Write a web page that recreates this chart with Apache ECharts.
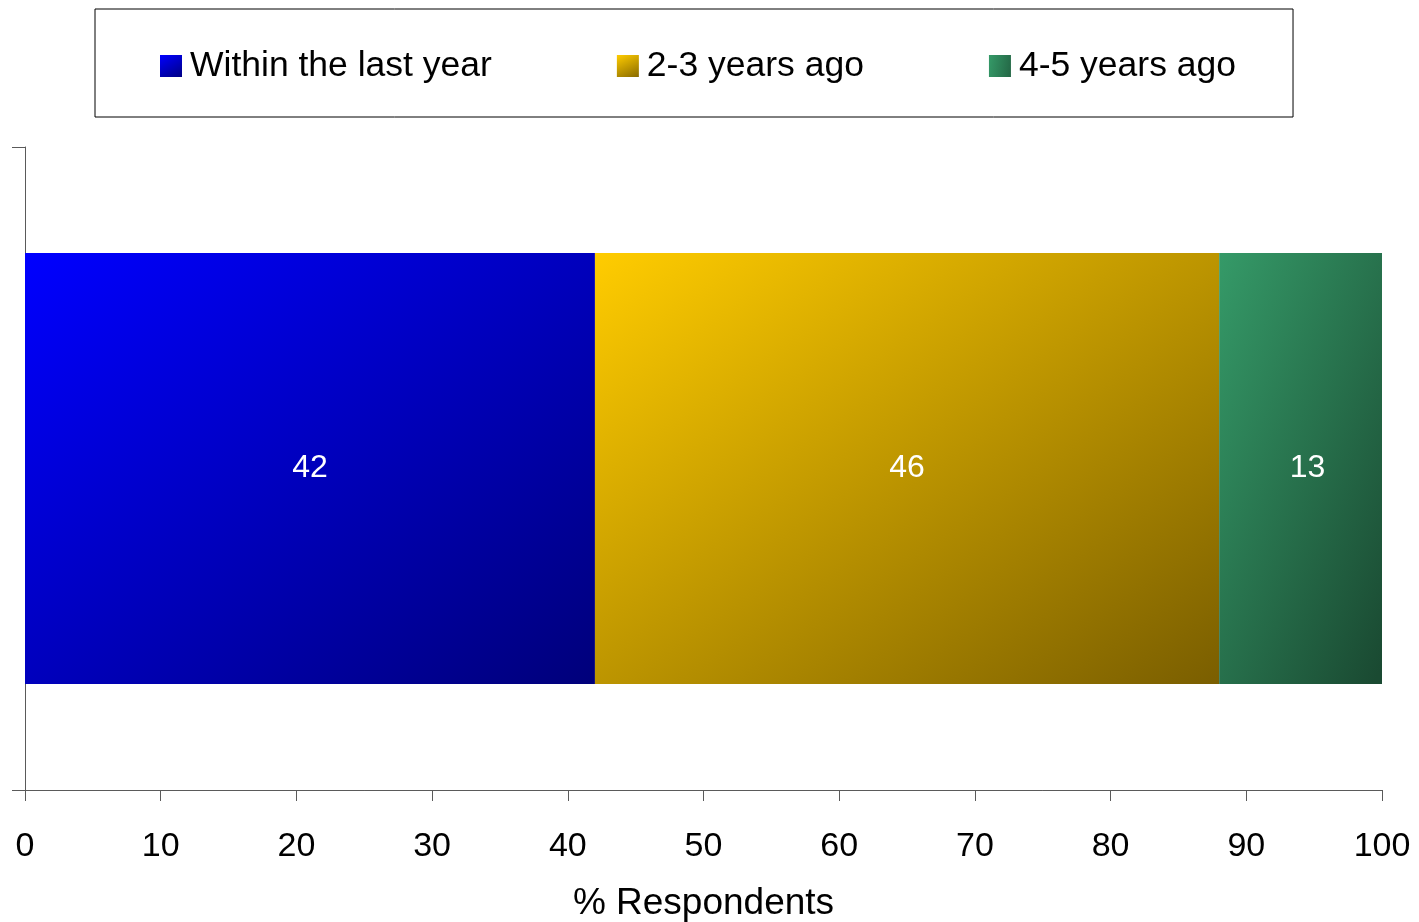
<!DOCTYPE html>
<html>
<head>
<meta charset="utf-8">
<title>Respondents</title>
<script src="https://cdn.jsdelivr.net/npm/echarts@6/dist/echarts.min.js"></script>
<style>
    html, body { margin: 0; padding: 0; background: #fff; }
    #main { width: 1419px; height: 922px; }
</style>
</head>
<body>
<div id="main"></div>
<script>
var seriesNames = ['Within the last year', '2-3 years ago', '4-5 years ago'];
var lastYear = [42];
var twoThreeYears = [46];
var fourFiveYears = [13];
var xTicks = [0, 10, 20, 30, 40, 50, 60, 70, 80, 90, 100];

var font = "'Liberation Sans', Arial, sans-serif";

// diagonal fill like the office chart: light top-left, dark bottom-right
// w/h = rough pixel size of the bar so the colour bands run corner to corner
function diag(c1, c2, w, h) {
    var s = w * w + h * h;
    return new echarts.graphic.LinearGradient(0, 0, 2 * h * h / s, 2 * w * w / s, [
        {offset: 0, color: c1},
        {offset: 1, color: c2}
    ]);
}

var dom = document.getElementById('main');
var myChart = echarts.init(dom);

var labelStyle = {
    show: true,
    position: 'inside',
    color: '#fff',
    fontSize: 32,
    fontFamily: font
};

var option = {
    animation: false,
    legend: {
        data: seriesNames,
        icon: 'rect',
        left: 95,
        top: 9,
        padding: [37, 57, 31, 65],
        itemWidth: 22,
        itemHeight: 22,
        itemGap: 125,
        borderColor: '#000',
        borderWidth: 1,
        textStyle: {
            color: '#000',
            fontSize: 35.5,
            fontFamily: font,
            lineHeight: 40,
            padding: [0, 0, 0, 3]
        }
    },
    grid: {
        left: 25,
        right: 37,
        top: 147,
        bottom: 132,
        outerBoundsMode: 'none'
    },
    xAxis: {
        type: 'value',
        min: xTicks[0],
        max: xTicks[xTicks.length - 1],
        interval: 10,
        name: '% Respondents',
        nameLocation: 'middle',
        nameGap: 95,
        nameTextStyle: { color: '#000', fontSize: 37, fontFamily: font },
        axisLine: { show: true, lineStyle: { color: '#5a5a5a', width: 1 } },
        axisTick: { show: true, length: 11, lineStyle: { color: '#5a5a5a' } },
        axisLabel: { color: '#000', fontSize: 34, fontFamily: font, margin: 40 },
        splitLine: { show: false }
    },
    yAxis: {
        type: 'category',
        data: [''],
        axisLine: { show: true, lineStyle: { color: '#5a5a5a', width: 1 } },
        axisTick: { show: true, length: 13, lineStyle: { color: '#5a5a5a' } },
        axisLabel: { show: false }
    },
    series: [
        {
            name: seriesNames[0],
            type: 'bar',
            stack: 'total',
            barWidth: 431,
            data: lastYear,
            label: labelStyle,
            itemStyle: { color: diag('#0000ff', '#00007a', 570, 431) }
        },
        {
            name: seriesNames[1],
            type: 'bar',
            stack: 'total',
            barWidth: 431,
            data: twoThreeYears,
            label: labelStyle,
            itemStyle: { color: diag('#ffcc00', '#7a5e00', 624, 431) }
        },
        {
            name: seriesNames[2],
            type: 'bar',
            stack: 'total',
            barWidth: 431,
            clip: true,
            data: fourFiveYears,
            // the bar runs past 100 and is cut at the edge; label sits on the full bar
            label: Object.assign({}, labelStyle, { offset: [7, 0] }),
            itemStyle: { color: diag('#359a68', '#1a4a32', 168, 431) }
        }
    ]
};

myChart.setOption(option, true);
</script>
</body>
</html>
